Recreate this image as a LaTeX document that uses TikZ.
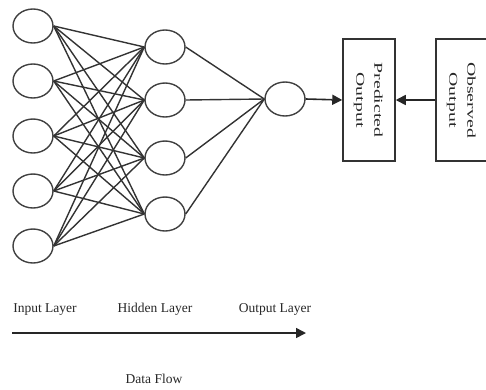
\documentclass[tikz,border=0pt]{standalone}
\usepackage{fontspec}
\setmainfont{Liberation Serif}
\usetikzlibrary{arrows.meta,shapes.geometric}
\newcommand\boxlabel[2]{\scalebox{1.65}[1]{\fontsize{12}{18}\selectfont\begin{tabular}{@{}c@{}}#1\\#2\end{tabular}}}
\begin{document}
\begin{tikzpicture}[x=1pt,y=-1pt,
  neuron/.style={ellipse, draw=black!75, line width=1.4pt, minimum width=40pt, minimum height=34pt, inner sep=0pt},
  link/.style={draw=black!80, line width=1.4pt},
  outbox/.style={rectangle, draw=black!80, line width=1.5pt, minimum width=52pt, minimum height=122pt, inner sep=0pt},
  flow/.style={draw=black!85, line width=1.6pt, -{Triangle[length=10pt,width=10pt]}},
  lbl/.style={text=black!85, font=\fontsize{13.5}{16}\selectfont, anchor=base, inner sep=0pt},
  boxtxt/.style={text=black!85, rotate=-90, inner sep=0pt}]
\useasboundingbox (0,0) rectangle (486,389);
\clip (0,0) rectangle (486,389);
% input layer
\foreach \k/\y in {1/26,2/81,3/136,4/191,5/246}
  \node[neuron] (i\k) at (33,\y) {};
% hidden layer
\foreach \k/\y in {1/47,2/100,3/158,4/214}
  \node[neuron] (h\k) at (165,\y) {};
% output neuron
\node[neuron] (o) at (285,99) {};
% boxes
\node[outbox] (pred) at (369,100) {};
\node[outbox] (obs) at (462,100) {};
\node[boxtxt] (predtxt) at (pred.center) {\boxlabel{Predicted}{Output}};
\node[boxtxt] (obstxt) at (obs.center) {\boxlabel{Observed}{Output}};
% connections
\foreach \a in {1,...,5}
  \foreach \b in {1,...,4}
    \path[link] (i\a.east) -- (h\b.west);
\foreach \b in {1,...,4}
  \path[link] (h\b.east) -- (o.west);
\draw[flow] (o.east) -- (pred.west);
\draw[flow] (obs.west) -- (pred.east);
% bottom labels
\node[lbl] (lin) at (45,312) {Input Layer};
\node[lbl] (lhid) at (155,312) {Hidden Layer};
\node[lbl] (lout) at (275,312) {Output Layer};
\coordinate (fs) at (12,333);
\coordinate (fe) at (306,333);
\draw[flow] (fs) -- (fe);
\node[lbl] (ldf) at (154,383) {Data Flow};
\end{tikzpicture}
\end{document}
